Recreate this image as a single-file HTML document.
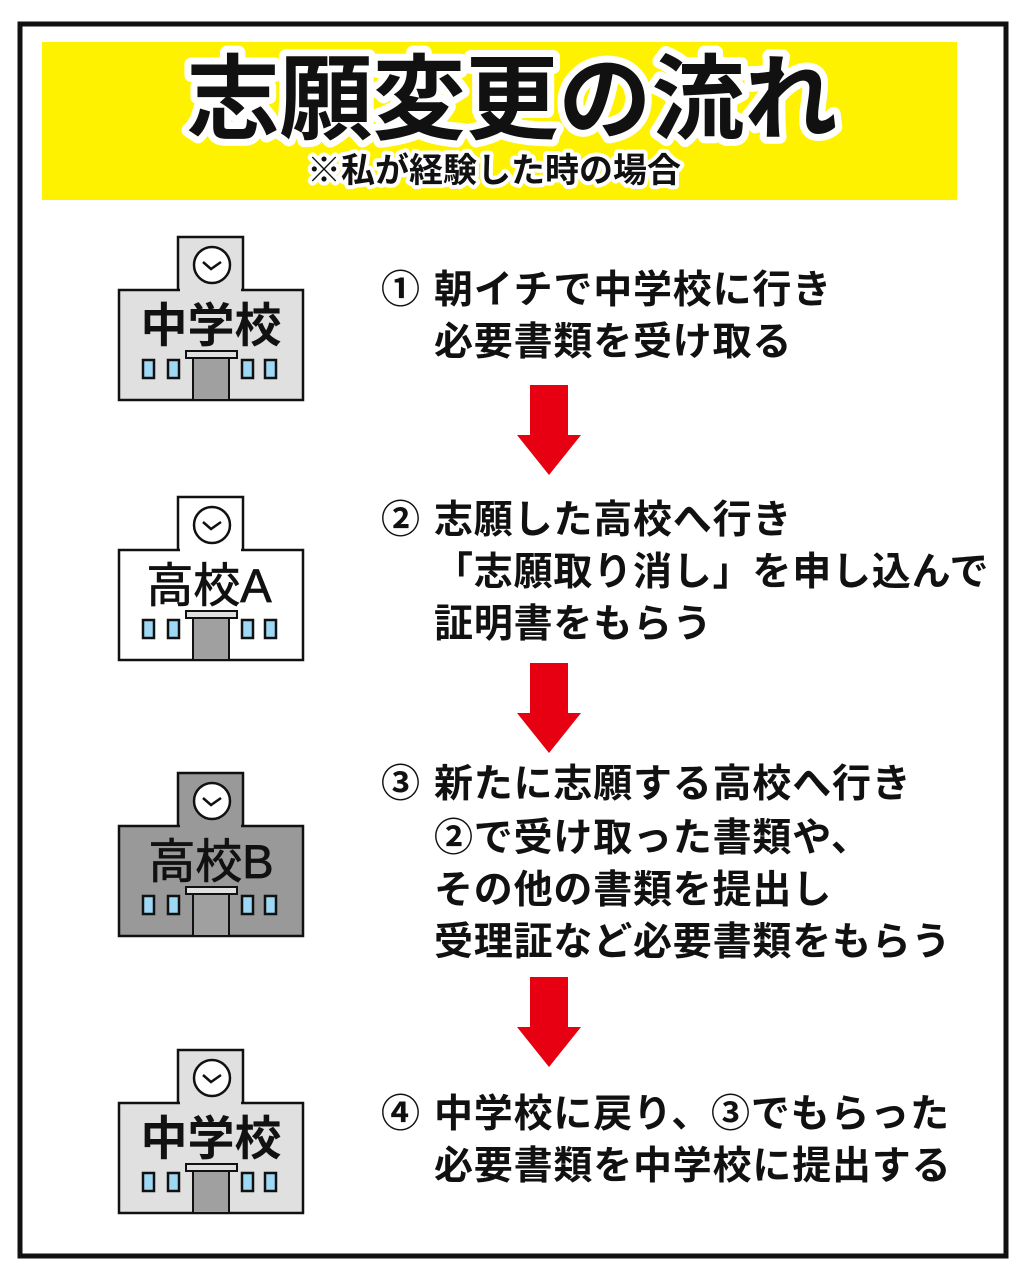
<!DOCTYPE html>
<html><head><meta charset="utf-8"><style>
html,body{margin:0;padding:0;background:#fff}
svg{display:block}
text{font-family:"Liberation Sans","Noto Sans CJK JP",sans-serif}
</style></head><body>
<svg width="1024" height="1280" viewBox="0 0 1024 1280" xmlns="http://www.w3.org/2000/svg">
<rect x="0" y="0" width="1024" height="1280" fill="#fff"/>
<rect x="20" y="24" width="986" height="1232" fill="none" stroke="#111" stroke-width="5"/>
<rect x="42" y="42" width="915" height="158" fill="#fff200"/>
<text x="512" y="132" text-anchor="middle" font-size="93" font-weight="bold" fill="#111" stroke="#fff" stroke-width="14" stroke-linejoin="round" paint-order="stroke">志願変更の流れ</text>
<text x="494" y="182" text-anchor="middle" font-size="34" font-weight="bold" fill="#111" stroke="#fff" stroke-width="8" stroke-linejoin="round" paint-order="stroke">※私が経験した時の場合</text>

<defs>
<g id="bld">
<rect x="178" y="237" width="65" height="60" stroke="#111" stroke-width="2.5"/>
<rect x="119" y="290" width="184" height="110" stroke="#111" stroke-width="2.5"/>
<rect x="180" y="288" width="61" height="6" stroke="none"/>
<circle cx="212" cy="265" r="18" fill="#fff" stroke="#111" stroke-width="2.5"/>
<polyline points="203,262 211,269 221,262" fill="none" stroke="#111" stroke-width="2.5"/>
<g fill="#9fd8f5" stroke="#111" stroke-width="2.5">
<rect x="143" y="360" width="11" height="18"/><rect x="168" y="360" width="11" height="18"/>
<rect x="242" y="360" width="11" height="18"/><rect x="265" y="360" width="11" height="18"/>
</g>
<rect x="193" y="358" width="36" height="42" fill="#a0a0a0" stroke="#111" stroke-width="2"/>
<rect x="186" y="351" width="51" height="7" fill="#e0e0e0" stroke="#111" stroke-width="2"/>
</g>
</defs>

<g fill="#e0e0e0"><use href="#bld"/></g>
<text x="211" y="342" text-anchor="middle" font-size="47" font-weight="bold" fill="#111">中学校</text>

<g fill="#ffffff" transform="translate(0,260)"><use href="#bld"/></g>
<text x="209" y="602" text-anchor="middle" font-size="47" fill="#111" stroke="#111" stroke-width="0.8">高校A</text>

<g fill="#999999" transform="translate(0,536)"><use href="#bld"/></g>
<text x="211" y="878" text-anchor="middle" font-size="47" fill="#111" stroke="#111" stroke-width="0.8">高校B</text>

<g fill="#e0e0e0" transform="translate(0,813)"><use href="#bld"/></g>
<text x="211" y="1155" text-anchor="middle" font-size="47" font-weight="bold" fill="#111">中学校</text>

<g fill="#e60012">
<polygon points="530,385 568,385 568,435 581,435 549,475 517,435 530,435"/>
<polygon points="530,663 568,663 568,713 581,713 549,753 517,713 530,713"/>
<polygon points="530,977 568,977 568,1027 581,1027 549,1067 517,1027 530,1027"/>
</g>

<g font-size="39" fill="#111" font-weight="bold" letter-spacing="0.8">
<text x="381" y="303">①</text><text x="434" y="303">朝イチで中学校に行き</text>
<text x="434" y="355">必要書類を受け取る</text>
<text x="381" y="533">②</text><text x="434" y="533">志願した高校へ行き</text>
<text x="434" y="585">「志願取り消し」を申し込んで</text>
<text x="434" y="637">証明書をもらう</text>
<text x="381" y="797">③</text><text x="434" y="797">新たに志願する高校へ行き</text>
<text x="434" y="851">②で受け取った書類や、</text>
<text x="434" y="903">その他の書類を提出し</text>
<text x="434" y="955">受理証など必要書類をもらう</text>
<text x="381" y="1127">④</text><text x="434" y="1127">中学校に戻り、③でもらった</text>
<text x="434" y="1179">必要書類を中学校に提出する</text>
</g>
</svg>
</body></html>
